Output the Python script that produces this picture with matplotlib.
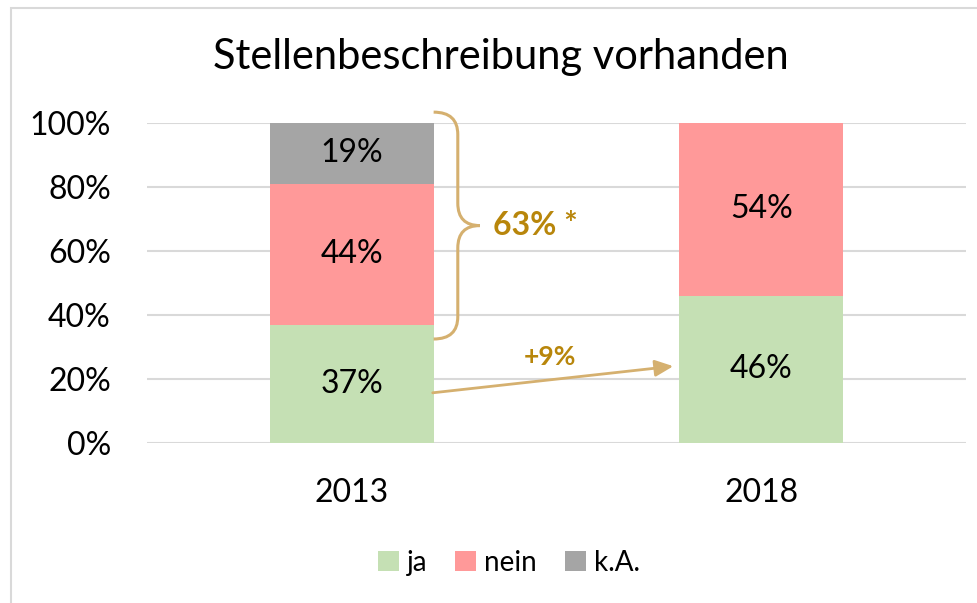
import matplotlib.pyplot as plt
from matplotlib.path import Path
from matplotlib.patches import PathPatch, Rectangle

plt.rcParams['font.family'] = ['Lato', 'DejaVu Sans']

years = ['2013', '2018']
ja = [37, 46]
nein = [44, 54]
ka = [19, 0]
series_names = ['ja', 'nein', 'k.A.']
colors = ['#C5E0B4', '#FF9999', '#A5A5A5']
accent = '#D5B06F'
accent_text = '#B8860B'

fig = plt.figure(figsize=(9.78, 6.03), dpi=100)
ax = fig.add_axes([0.1503, 0.2653, 0.8374, 0.5307])

x = range(len(years))
bottom = [0, 0]
for vals, name, col in zip([ja, nein, ka], series_names, colors):
	bars = ax.bar(x, vals, width=0.4, bottom=bottom, color=col, label=name, zorder=2)
	for xi, v, b in zip(x, vals, bottom):
		if v > 0:
			ax.text(xi, b + v / 2.0, '%d%%' % v, ha='center', va='center',
				fontsize=23, color='black', zorder=3)
	bottom = [b + v for b, v in zip(bottom, vals)]

ax.set_xlim(-0.5, 1.5)
ax.set_ylim(0, 100)
ax.set_yticks(range(0, 101, 20))
ax.set_yticklabels(['%d%%' % t for t in range(0, 101, 20)])
ax.set_xticks(list(x))
ax.set_xticklabels(years)
ax.tick_params(axis='both', length=0, labelsize=23)
ax.tick_params(axis='y', pad=26)
ax.tick_params(axis='x', pad=25)
ax.grid(axis='y', color='#D9D9D9', lw=1.5, zorder=0)
for s in ax.spines.values():
	s.set_visible(False)

# curly brace right of the 2013 bar
x0, xs, xt = 0.2, 0.259, 0.313
top, bot = 103.4, 32.5
mid = (top + bot) / 2.0
r = 7.0
verts = [
	(x0, top), (xs, top), (xs, top - r),
	(xs, mid + r),
	(xs, mid), (xt, mid),
	(xs, mid), (xs, mid - r),
	(xs, bot + r),
	(xs, bot), (x0, bot),
]
codes = [Path.MOVETO, Path.CURVE3, Path.CURVE3, Path.LINETO,
	Path.CURVE3, Path.CURVE3, Path.CURVE3, Path.CURVE3,
	Path.LINETO, Path.CURVE3, Path.CURVE3]
ax.add_patch(PathPatch(Path(verts, codes), fill=False, edgecolor=accent,
	lw=2.2, clip_on=False, zorder=4))
ax.text(0.345, mid, '63% *', ha='left', va='center', fontsize=23,
	fontweight='bold', color=accent_text)

# growth arrow
ax.annotate('', xy=(0.792, 24.1), xytext=(0.191, 15.6),
	arrowprops=dict(arrowstyle='-|>,head_length=1.1,head_width=0.5',
		color=accent, lw=2), zorder=4)
ax.text(0.484, 27.0, '+9%', ha='center', va='center', fontsize=19,
	fontweight='bold', color=accent_text)

fig.text(501 / 978.0, 1 - 57 / 603.0, 'Stellenbeschreibung vorhanden',
	ha='center', va='center', fontsize=30)

fig.legend(loc='center', bbox_to_anchor=(509 / 978.0, 1 - 563 / 603.0), ncol=3,
	frameon=False, fontsize=20, handlelength=0.75, handleheight=0.75,
	handletextpad=0.3, columnspacing=1.0)

# chart area border (cut off at right and bottom)
fig.patches.append(Rectangle((11 / 978.0, -0.1), 1.2, 1.1 - 8 / 603.0,
	transform=fig.transFigure, fill=False, edgecolor='#D9D9D9', lw=1.5))

fig.savefig('out.png', dpi=100)
